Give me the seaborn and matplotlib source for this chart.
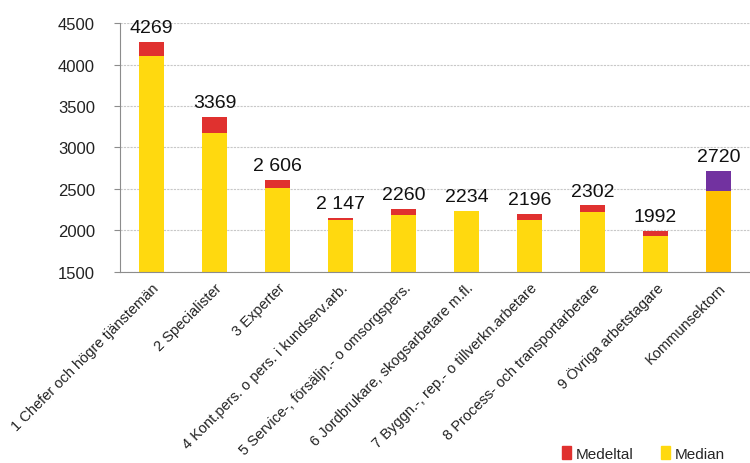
import matplotlib.pyplot as plt
import matplotlib.patches as mpatches
import seaborn as sns
import pandas as pd

kategorier = [
    "1 Chefer och högre tjänstemän",
    "2 Specialister",
    "3 Experter",
    "4 Kont.pers. o pers. i kundserv.arb.",
    "5 Service-, försäljn.- o omsorgspers.",
    "6 Jordbrukare, skogsarbetare m.fl.",
    "7 Byggn.-, rep.- o tillverkn.arbetare",
    "8 Process- och transportarbetare",
    "9 Övriga arbetstagare",
    "Kommunsektorn",
]
medeltal = [4269, 3369, 2606, 2147, 2260, 2234, 2196, 2302, 1992, 2720]
median = [4100, 3170, 2510, 2125, 2180, 2234, 2125, 2220, 1930, 2470]
etiketter = ["4269", "3369", "2 606", "2 147", "2260", "2234", "2196", "2302", "1992", "2720"]

df = pd.DataFrame({"kategori": kategorier, "medeltal": medeltal, "median": median})

rod = "#E0312F"
gul = "#FFD90F"
farg_medel = {k: rod for k in kategorier}
farg_medel["Kommunsektorn"] = "#7232A0"
farg_median = {k: gul for k in kategorier}
farg_median["Kommunsektorn"] = "#FFC000"

sns.set_style("white")
plt.rcParams["font.family"] = ["Liberation Sans Narrow", "Liberation Sans", "DejaVu Sans"]

fig = plt.figure(figsize=(7.5, 4.64), dpi=100)
ax = fig.add_axes([0.16, 0.412, 0.84, 0.536])

sns.barplot(data=df, x="kategori", y="medeltal", hue="kategori", palette=farg_medel,
            width=0.41, legend=False, ax=ax, saturation=1, linewidth=0, edgecolor="none")
sns.barplot(data=df, x="kategori", y="median", hue="kategori", palette=farg_median,
            width=0.41, legend=False, ax=ax, saturation=1, linewidth=0, edgecolor="none")

ax.set_ylim(1500, 4500)
ax.set_xlim(-0.5, 9.5)
ax.set_yticks(range(1500, 4501, 500))
ax.set_xlabel("")
ax.set_ylabel("")
ax.yaxis.grid(True, color="#c8c8c8", linestyle=(0, (2, 1)), linewidth=0.8)
ax.set_axisbelow(True)

for s in ["top", "right"]:
    ax.spines[s].set_visible(False)
for s in ["left", "bottom"]:
    ax.spines[s].set_color("#8c8c8c")

ax.tick_params(axis="y", labelsize=12, colors="#8c8c8c", labelcolor="#222222",
               length=4, direction="out", left=True, pad=14)
ax.set_xticks(range(len(kategorier)))
ax.set_xticklabels(kategorier, rotation=45, ha="right", rotation_mode="anchor",
                   fontsize=10.5, color="#222222")
ax.tick_params(axis="x", length=0, pad=6)
# tickmarks between categories
ax.set_xticks([i - 0.5 for i in range(len(kategorier) + 1)], minor=True)
ax.tick_params(axis="x", which="minor", length=5, color="#8c8c8c", direction="out")

for i, (v, t) in enumerate(zip(medeltal, etiketter)):
    ax.text(i, v + 70, t, ha="center", va="bottom", fontsize=14, color="#111111")

handles = [mpatches.Patch(color=rod, label="Medeltal"),
           mpatches.Patch(color=gul, label="Median")]
fig.legend(handles=handles, loc="lower right", bbox_to_anchor=(0.985, -0.025), ncol=2,
           frameon=False, fontsize=11, handlelength=0.6, handleheight=0.9,
           handletextpad=0.3, columnspacing=1.8)

fig.savefig("out.png", dpi=100)
